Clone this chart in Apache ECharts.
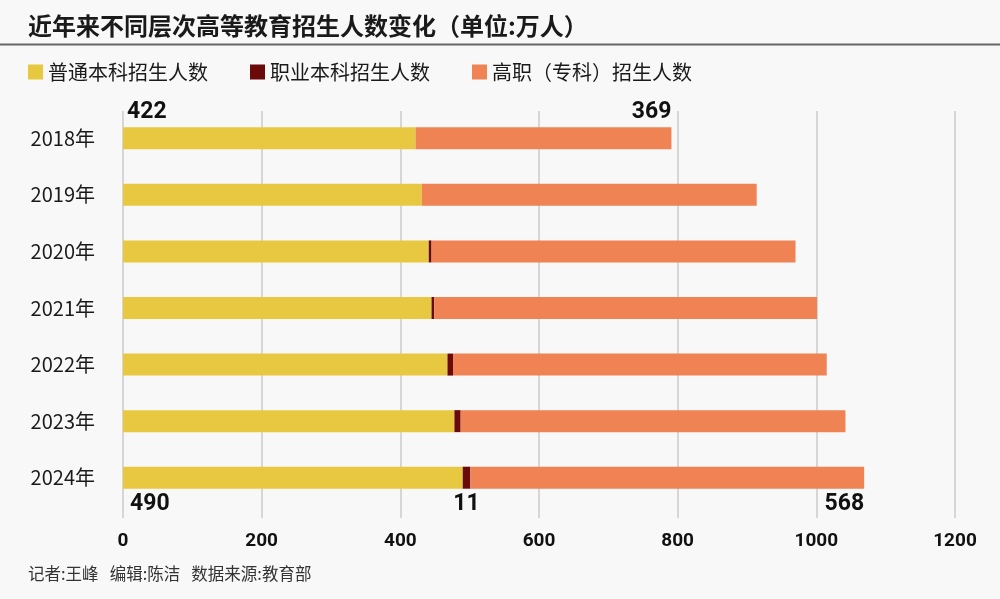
<!DOCTYPE html>
<html>
<head>
<meta charset="utf-8">
<script src="https://cdn.jsdelivr.net/npm/echarts@6/dist/echarts.min.js"></script>
<style>
  html, body { margin: 0; padding: 0; background: #f8f8f8; }
  #chart { width: 1000px; height: 599px; }
</style>
</head>
<body>
<div id="chart"></div>
<script>
// 数据
const years = ['2018年', '2019年', '2020年', '2021年', '2022年', '2023年', '2024年']
const generalUndergrad = [422, 431, 441, 445, 468, 478, 490]
const vocationalUndergrad = [0, 0, 4, 4, 8, 9, 11]
const higherVocational = [369, 483, 525, 552, 539, 555, 568]
const xTicks = [0, 200, 400, 600, 800, 1000, 1200]

const numFont = '"Liberation Sans Narrow", "Roboto", sans-serif'
const cnFont = '"Noto Sans CJK SC", sans-serif'

const colors = ['#e8c841', '#6b0a0a', '#ef8354']

// 首尾两年的标注
const labelTop = (pos, align) => ({
  show: true, position: pos, align: align, verticalAlign: 'bottom',
  color: '#111', fontFamily: numFont, fontWeight: 'bold', fontSize: 23
})
const labelBottom = (pos, align) => ({
  show: true, position: pos, align: align, verticalAlign: 'top',
  color: '#111', fontFamily: numFont, fontWeight: 'bold', fontSize: 23
})

const buildData = (values, topLabel, bottomLabel) => values.map((v, i) => {
  if (i === 0 && topLabel && v > 0) return { value: v, label: topLabel }
  if (i === values.length - 1 && bottomLabel) return { value: v, label: bottomLabel }
  return v
})

const chart = echarts.init(document.getElementById('chart'))

const option = {
  backgroundColor: '#f8f8f8',
  color: colors,
  title: {
    text: '近年来不同层次高等教育招生人数变化（单位:万人）',
    left: 23, top: 9,
    textStyle: { fontFamily: cnFont, fontSize: 24, fontWeight: 'bold', color: '#1a1a1a' }
  },
  legend: {
    left: 23, top: 57,
    itemWidth: 15, itemHeight: 15, itemGap: 42,
    icon: 'rect',
    textStyle: { fontFamily: cnFont, fontSize: 20, color: '#1a1a1a' },
    data: ['普通本科招生人数', '职业本科招生人数', '高职（专科）招生人数']
  },
  grid: [
    { left: 123, right: 45, top: 111, bottom: 81 },
    { left: 123, right: 45, top: 110, bottom: 93 }
  ],
  xAxis: [
    {
      gridIndex: 0, type: 'value', min: 0, max: 1200, interval: 200,
      axisLine: { show: false }, axisTick: { show: false },
      splitLine: { lineStyle: { color: '#d6d6d6', width: 2 } },
      axisLabel: {
        margin: 14, fontFamily: numFont, fontWeight: 'bold', fontSize: 19, color: '#111',
        formatter: v => String(v)
      }
    },
    {
      gridIndex: 1, type: 'value', min: 0, max: 1200, show: false
    }
  ],
  yAxis: [
    {
      gridIndex: 0, type: 'category', data: years, show: false
    },
    {
      gridIndex: 1, type: 'category', data: years, inverse: true,
      axisLine: { show: false }, axisTick: { show: false },
      axisLabel: { margin: 28, fontFamily: cnFont, fontSize: 20, color: '#1a1a1a' }
    }
  ],
  graphic: [
    { type: 'line', shape: { x1: 0, y1: 44.5, x2: 1000, y2: 44.5 }, style: { stroke: '#666', lineWidth: 2 } },
    {
      type: 'text', left: 28, top: 565,
      style: { text: '记者:王峰   编辑:陈洁   数据来源:教育部', font: '16.5px "Noto Sans CJK SC", sans-serif', fill: '#333' }
    }
  ],
  series: [
    {
      name: '普通本科招生人数', type: 'bar', stack: 'total', xAxisIndex: 1, yAxisIndex: 1,
      barWidth: 22,
      data: buildData(generalUndergrad, labelTop([4, -4], 'left'), labelBottom([7, 26], 'left'))
    },
    {
      name: '职业本科招生人数', type: 'bar', stack: 'total', xAxisIndex: 1, yAxisIndex: 1,
      barWidth: 22,
      data: buildData(vocationalUndergrad, null, labelBottom(['50%', 26], 'center'))
    },
    {
      name: '高职（专科）招生人数', type: 'bar', stack: 'total', xAxisIndex: 1, yAxisIndex: 1,
      barWidth: 22,
      data: buildData(higherVocational, labelTop(['100%', -4], 'right'), labelBottom(['100%', 26], 'right'))
    }
  ]
}

chart.setOption(option)
</script>
</body>
</html>
